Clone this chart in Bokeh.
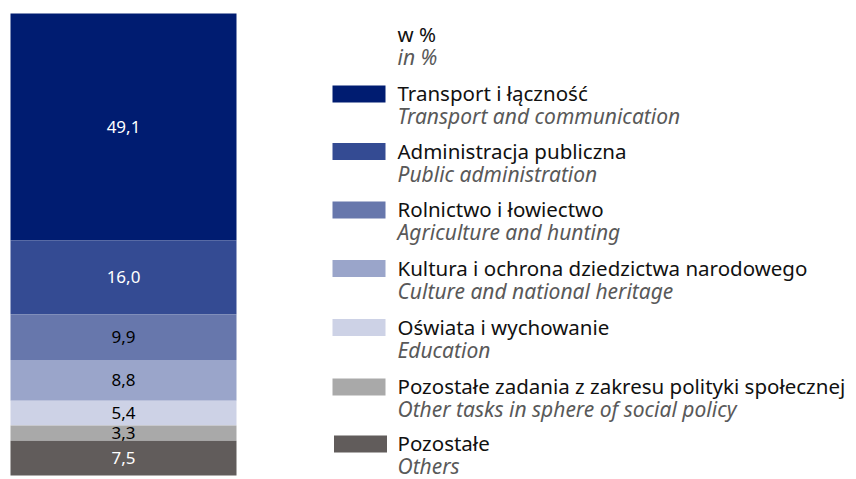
from bokeh.plotting import figure
from bokeh.models import ColumnDataSource, Range1d
from bokeh.core.properties import value
from bokeh.embed import file_html
from bokeh.resources import INLINE

# ---- data ----
categories_pl = ["Transport i łączność", "Administracja publiczna", "Rolnictwo i łowiectwo",
                 "Kultura i ochrona dziedzictwa narodowego", "Oświata i wychowanie",
                 "Pozostałe zadania z zakresu polityki społecznej", "Pozostałe"]
categories_en = ["Transport and communication", "Public administration", "Agriculture and hunting",
                 "Culture and national heritage", "Education",
                 "Other tasks in sphere of social policy", "Others"]
shares = [49.1, 16.0, 9.9, 8.8, 5.4, 3.3, 7.5]
share_labels = ["49,1", "16,0", "9,9", "8,8", "5,4", "3,3", "7,5"]
colors = ["#001c71", "#344b93", "#6777ac", "#9aa5ca", "#cdd2e6", "#a9a9a9", "#615c5b"]
label_colors = ["white", "white", "black", "black", "black", "black", "white"]
unit_pl = "w %"
unit_en = "in %"

W, H = 856, 479
FONT = "Noto Sans"

# stack from bottom: last category at bottom
tops, bottoms = [], []
acc = 0.0
for v in reversed(shares):
    bottoms.append(acc)
    acc += v
    tops.append(acc)
tops = tops[::-1]
bottoms = bottoms[::-1]
mids = [(t + b) / 2 for t, b in zip(tops, bottoms)]

bar_top_px, bar_bot_px = 13, 475
px_per_unit = (bar_bot_px - bar_top_px) / 100.0
p = figure(width=W, height=H, output_backend="svg", toolbar_location=None,
           x_range=Range1d(0, W),
           y_range=Range1d(-(H - bar_bot_px) / px_per_unit, 100 + bar_top_px / px_per_unit),
           min_border=0)
p.axis.visible = False
p.grid.visible = False
p.outline_line_color = None
p.background_fill_color = None
p.border_fill_color = "white"
p.extra_y_ranges = {"px": Range1d(H, 0)}

src = ColumnDataSource(dict(x=[123] * len(shares), top=tops, bottom=bottoms, color=colors,
                            mid=mids, lab=share_labels, lc=label_colors))
p.vbar(x="x", width=226, top="top", bottom="bottom", fill_color="color", line_color=None, source=src)
p.text(x="x", y="mid", text="lab", text_color="lc", text_align="center", text_baseline="middle",
       text_font=value(FONT), text_font_size="17px", source=src)

# legend
sw_y = [93.5, 151, 209.5, 268, 327, 386.5, 443.5]
sw_x = [358.5, 358.5, 358.5, 358.5, 358.5, 358.5, 360]
leg = ColumnDataSource(dict(sx=sw_x, sy=sw_y, ty1=[y - 1 for y in sw_y], ty2=[y + 22 for y in sw_y],
                            pl=categories_pl, en=categories_en, color=colors))
p.rect(x="sx", y="sy", width=53, height=17, fill_color="color", line_color=None,
       source=leg, y_range_name="px")
p.text(x=397, y="ty1", text="pl", text_color="#111111", text_baseline="middle",
       text_font=value(FONT), text_font_size="20.5px", source=leg, y_range_name="px")
p.text(x=397, y="ty2", text="en", text_color="#595959", text_baseline="middle",
       text_font=value(FONT), text_font_size="21px", text_font_style="italic",
       source=leg, y_range_name="px")
p.text(x=[397], y=[33], text=[unit_pl], text_color="#111111", text_baseline="middle",
       text_font=value(FONT), text_font_size="20.5px", y_range_name="px")
p.text(x=[397], y=[56], text=[unit_en], text_color="#595959", text_baseline="middle",
       text_font=value(FONT), text_font_size="21px", text_font_style="italic", y_range_name="px")

open("out.html", "w").write(file_html(p, INLINE))
